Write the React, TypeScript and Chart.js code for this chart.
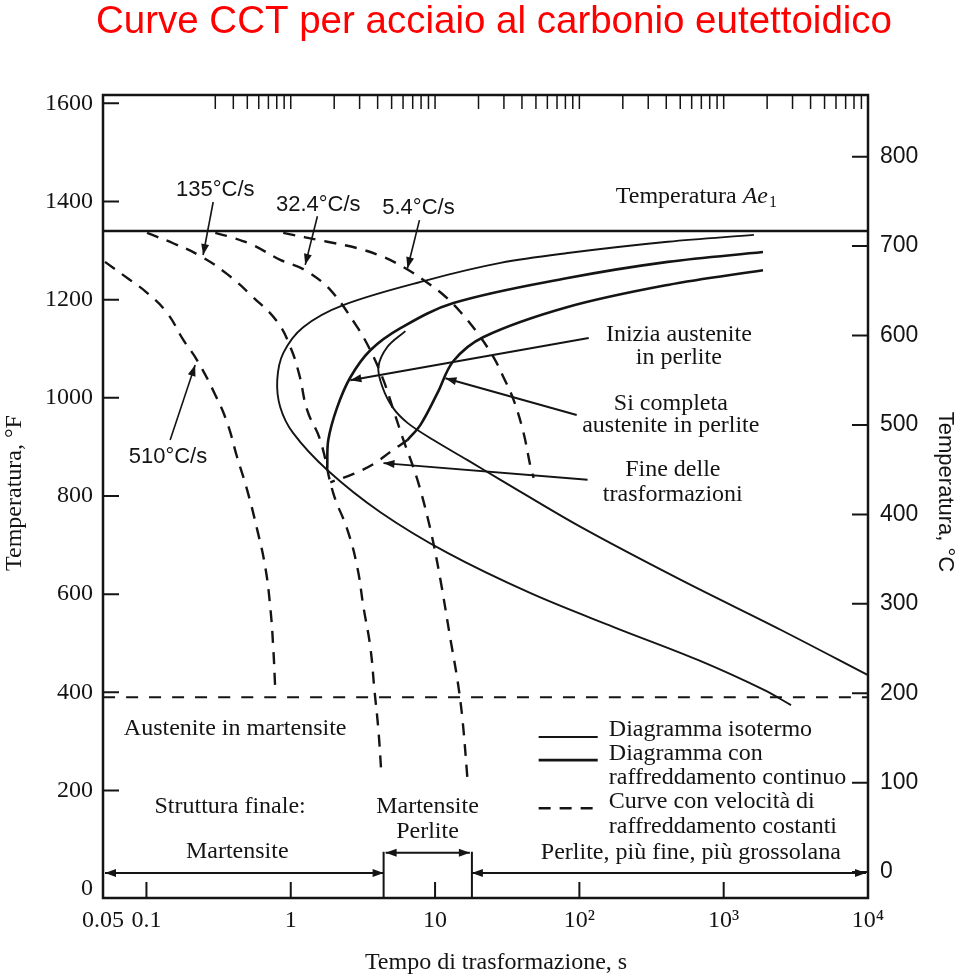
import React, { useEffect, useRef } from "react";
import { Chart, registerables } from "chart.js";

Chart.register(...registerables);

// ---------- texts ----------
const chartTitle = "Curve CCT per acciaio al carbonio eutettoidico";
const xAxisTitle = "Tempo di trasformazione, s";
const yAxisTitleF = "Temperatura, °F";
const yAxisTitleC = "Temperatura, °C";

// ---------- axes ----------
const timeTicks = [0.05, 0.1, 1, 10, 100, 1000, 10000];
const timeTickLabels = ["0.05", "0.1", "1", "10", "10²", "10³", "10⁴"];
const fahrenheitTicks = [0, 200, 400, 600, 800, 1000, 1200, 1400, 1600];
const celsiusTicks = [0, 100, 200, 300, 400, 500, 600, 700, 800];
const topMinorTicks = [
  0.3, 0.4, 0.5, 0.6, 0.7, 0.8, 0.9, 1,
  2, 3, 4, 5, 6, 7, 8, 9, 10,
  20, 30, 40, 50, 60, 70, 80, 90, 100,
  200, 300, 400, 500, 600, 700, 800, 900, 1000,
  2000, 3000, 4000, 5000, 6000, 7000, 8000, 9000, 10000,
];

// ---------- reference temperatures (°F) ----------
const ae1TempF = 1340;
const msTempF = 390;

// ---------- isothermal diagram (thin solid) ----------
const isoStartTime = [1620, 410, 83, 28.4, 8.86, 2.31, 1.22, 0.887, 0.806, 0.846, 1.04, 1.79, 4.18, 12.2, 45.9, 173, 662, 1902, 2928];
const isoStartTemp = [1332, 1318, 1295, 1275, 1240, 1189, 1144, 1091, 1036, 981, 928, 853, 767, 684, 602, 533, 466, 405, 374];

const isoEndTime = [6.23, 4.68, 4.05, 4.32, 5.07, 6.44, 9.75, 16.8, 28.4, 102, 505, 2496, 10000];
const isoEndTemp = [1136, 1104, 1063, 1022, 981, 949, 914, 873, 833, 737, 629, 527, 435];

// ---------- continuous cooling diagram (thick solid) ----------
const cctStartTime = [1872, 410, 83, 13.4, 5.76, 3.56, 2.59, 2.1, 1.82, 1.79];
const cctStartTemp = [1297, 1277, 1244, 1193, 1142, 1097, 1042, 981, 914, 857];

const cctEndTime = [1872, 410, 83, 21.7, 13.4, 10.4, 7.92, 6.44];
const cctEndTemp = [1260, 1230, 1185, 1124, 1075, 1010, 945, 914];

const cctStopTime = [6.44, 4.91, 3.74, 2.72, 1.88];
const cctStopTemp = [914, 890, 865, 845, 828];

// ---------- constant cooling rate curves (dashed) ----------
const rateNames = ["510°C/s", "135°C/s", "32.4°C/s", "5.4°C/s"];

const rate510Time = [0.0516, 0.077, 0.101, 0.139, 0.18, 0.224, 0.3, 0.363, 0.425, 0.499, 0.586, 0.666, 0.721, 0.756, 0.781];
const rate510Temp = [1277, 1240, 1214, 1173, 1118, 1077, 1006, 949, 879, 812, 731, 655, 574, 492, 405];

const rate135Time = [0.101, 0.153, 0.236, 0.363, 0.549, 0.806, 0.992, 1.146, 1.3, 1.6, 1.97, 2.47, 2.89, 3.19, 3.56, 3.8, 4.05, 4.25];
const rate135Temp = [1336, 1315, 1289, 1252, 1205, 1155, 1104, 1047, 975, 914, 806, 731, 655, 574, 492, 405, 323, 232];

const rate32Time = [0.3, 0.399, 0.549, 0.846, 1.26, 1.88, 2.89, 3.56, 4.39, 5.23, 6.04, 7.55, 9.3, 10.9, 12.8, 14.3, 15.5, 16.8];
const rate32Temp = [1336, 1326, 1311, 1281, 1260, 1220, 1144, 1097, 1036, 969, 914, 833, 731, 629, 507, 425, 344, 221];

const rate5Time = [0.887, 1.79, 2.89, 4.39, 6.23, 8.31, 11.4, 15.0, 19.7, 25.4, 29.8, 35.0, 41.1, 45.9, 48.2];
const rate5Temp = [1336, 1318, 1305, 1287, 1264, 1240, 1210, 1175, 1132, 1083, 1042, 996, 928, 859, 837];

// ---------- final structure boundaries (s) ----------
const martensiteLimit = 4.4;
const mixedLimit = 18;

// ---------- legend texts ----------
const legendIso = "Diagramma isotermo";
const legendCct = ["Diagramma con", "raffreddamento continuo"];
const legendRate = ["Curve con velocità di", "raffreddamento costanti"];

const SERIF = "'Liberation Serif', 'Times New Roman', serif";
const SANS = "'Liberation Sans', Arial, Helvetica, sans-serif";
const INK = "#141414";

const pts = (ts: number[], fs: number[]) => ts.map((t, i) => ({ x: t, y: fs[i] }));

function arrowHead(ctx: CanvasRenderingContext2D, x1: number, y1: number, x2: number, y2: number, len = 11, half = 4) {
  const a = Math.atan2(y2 - y1, x2 - x1);
  const c = Math.cos(a), s = Math.sin(a);
  ctx.beginPath();
  ctx.moveTo(x2, y2);
  ctx.lineTo(x2 - len * c + half * s, y2 - len * s - half * c);
  ctx.lineTo(x2 - len * c - half * s, y2 - len * s + half * c);
  ctx.closePath();
  ctx.fill();
}

function arrow(ctx: CanvasRenderingContext2D, x1: number, y1: number, x2: number, y2: number, both = false) {
  ctx.beginPath();
  ctx.moveTo(x1, y1);
  ctx.lineTo(x2, y2);
  ctx.stroke();
  arrowHead(ctx, x1, y1, x2, y2);
  if (both) arrowHead(ctx, x2, y2, x1, y1);
}

const decorPlugin = {
  id: "decor",
  afterDatasetsDraw(chart: any) {
    const { ctx, chartArea: a, scales } = chart;
    const X = (t: number) => scales.x.getPixelForValue(t);
    const Y = (f: number) => scales.y.getPixelForValue(f);
    const YC = (c: number) => scales.y2.getPixelForValue(c);
    const text = (s: string, x: number, y: number, font: string, align: CanvasTextAlign = "center") => {
      ctx.font = font;
      ctx.textAlign = align;
      ctx.textBaseline = "middle";
      ctx.fillText(s, x, y);
    };
    ctx.save();
    ctx.strokeStyle = INK;
    ctx.fillStyle = INK;
    ctx.setLineDash([]);

    // frame
    ctx.lineWidth = 2.5;
    ctx.strokeRect(a.left, a.top, a.right - a.left, a.bottom - a.top);

    // inward ticks
    ctx.lineWidth = 2;
    ctx.beginPath();
    for (const f of fahrenheitTicks) {
      if (f <= 0) continue;
      const y = Y(f);
      ctx.moveTo(a.left, y);
      ctx.lineTo(a.left + 16, y);
    }
    for (const c of celsiusTicks) {
      const y = YC(c);
      ctx.moveTo(a.right, y);
      ctx.lineTo(a.right - 16, y);
    }
    for (const t of timeTicks) {
      if (t <= timeTicks[0] || t >= timeTicks[timeTicks.length - 1]) continue;
      const x = X(t);
      ctx.moveTo(x, a.bottom);
      ctx.lineTo(x, a.bottom - 16);
    }
    ctx.stroke();
    ctx.lineWidth = 1.5;
    ctx.beginPath();
    for (const t of topMinorTicks) {
      const x = X(t);
      ctx.moveTo(x, a.top);
      ctx.lineTo(x, a.top + 14);
    }
    ctx.stroke();

    // main title
    ctx.fillStyle = "#ff0000";
    ctx.font = `38.5px ${SANS}`;
    ctx.textAlign = "center";
    ctx.textBaseline = "alphabetic";
    ctx.fillText(chartTitle, 494, 33);
    ctx.fillStyle = INK;

    // axis titles
    text(xAxisTitle, 496, 963, `24px ${SERIF}`);
    ctx.save();
    ctx.translate(15, 493);
    ctx.rotate(-Math.PI / 2);
    text(yAxisTitleF, 0, 0, `24px ${SERIF}`);
    ctx.restore();
    ctx.save();
    ctx.translate(945, 492);
    ctx.rotate(Math.PI / 2);
    text(yAxisTitleC, 0, 0, `22px ${SANS}`);
    ctx.restore();

    // Ae1 label
    {
      const cx = X(642), cy = Y(1409);
      const f1 = `24px ${SERIF}`, f2 = `italic 24px ${SERIF}`, f3 = `16px ${SERIF}`;
      ctx.font = f1; const w1 = ctx.measureText("Temperatura ").width;
      ctx.font = f2; const w2 = ctx.measureText("Ae").width;
      ctx.font = f3; const w3 = ctx.measureText("1").width;
      let x = cx - (w1 + w2 + w3) / 2;
      text("Temperatura ", x, cy, f1, "left"); x += w1;
      text("Ae", x, cy, f2, "left"); x += w2;
      text("1", x + 1, cy + 6, f3, "left");
    }

    // cooling-rate labels with arrows
    ctx.lineWidth = 1.6;
    const rateNotes = [
      { label: [0.141, 879], from: [0.146, 914], to: [0.2175, 1067] },
      { label: [0.3, 1423], from: [0.29, 1399], to: [0.247, 1291] },
      { label: [1.55, 1393], from: [1.53, 1370], to: [1.26, 1271] },
      { label: [7.67, 1387], from: [7.8, 1362], to: [6.44, 1264] },
    ];
    rateNotes.forEach((n, i) => {
      text(rateNames[i], X(n.label[0]), Y(n.label[1]), `22px ${SANS}`);
      arrow(ctx, X(n.from[0]), Y(n.from[1]), X(n.to[0]), Y(n.to[1]));
    });

    // pointer notes
    const notes = [
      { lines: ["Inizia austenite", "in perlite"], at: [489, 1128, 1081], from: [116, 1122], to: [2.59, 1036] },
      { lines: ["Si completa", "austenite in perlite"], at: [430, 989, 943], from: [95.8, 965], to: [11.8, 1040] },
      { lines: ["Fine delle", "trasformazioni"], at: [444, 853, 802], from: [114, 833], to: [4.39, 867] },
    ];
    ctx.lineWidth = 2;
    for (const n of notes) {
      text(n.lines[0], X(n.at[0]), Y(n.at[1]), `24px ${SERIF}`);
      text(n.lines[1], X(n.at[0]), Y(n.at[2]), `24px ${SERIF}`);
      arrow(ctx, X(n.from[0]), Y(n.from[1]), X(n.to[0]), Y(n.to[1]));
    }

    // structure texts
    text("Austenite in martensite", X(0.412), Y(325), `24px ${SERIF}`);
    text("Struttura finale:", X(0.38), Y(168), `24px ${SERIF}`);
    text("Martensite", X(0.426), Y(75), `24px ${SERIF}`);
    text("Martensite", X(8.86), Y(168), `24px ${SERIF}`);
    text("Perlite", X(8.86), Y(117), `24px ${SERIF}`);
    text("Perlite, più fine, più grossolana", X(592), Y(73), `24px ${SERIF}`);

    // structure arrows
    ctx.lineWidth = 2;
    const yBase = Y(32), yBox = Y(73);
    const xm = X(martensiteLimit), xp = X(mixedLimit);
    arrow(ctx, a.left + 2, yBase, xm, yBase, true);
    arrow(ctx, xp, yBase, a.right - 2, yBase, true);
    arrow(ctx, xm + 2, yBox, xp - 2, yBox, true);
    ctx.beginPath();
    ctx.moveTo(xm, yBox - 1); ctx.lineTo(xm, a.bottom);
    ctx.moveTo(xp, yBox - 1); ctx.lineTo(xp, a.bottom);
    ctx.stroke();

    // legend
    const lx1 = X(52.2), lx2 = X(134), tx = X(160);
    ctx.lineWidth = 1.8;
    ctx.beginPath(); ctx.moveTo(lx1, Y(309)); ctx.lineTo(lx2, Y(309)); ctx.stroke();
    ctx.lineWidth = 2.8;
    ctx.beginPath(); ctx.moveTo(lx1, Y(262)); ctx.lineTo(lx2, Y(262)); ctx.stroke();
    ctx.lineWidth = 2.4;
    ctx.setLineDash([12, 9]);
    ctx.beginPath(); ctx.moveTo(lx1, Y(164)); ctx.lineTo(lx2, Y(164)); ctx.stroke();
    ctx.setLineDash([]);
    text(legendIso, tx, Y(323), `24px ${SERIF}`, "left");
    text(legendCct[0], tx, Y(276), `24px ${SERIF}`, "left");
    text(legendCct[1], tx, Y(226), `24px ${SERIF}`, "left");
    text(legendRate[0], tx, Y(177), `24px ${SERIF}`, "left");
    text(legendRate[1], tx, Y(126), `24px ${SERIF}`, "left");

    ctx.restore();
  },
};

export default function App() {
  const ref = useRef<HTMLCanvasElement>(null);

  useEffect(() => {
    if (!ref.current) return;
    const solid = (data: any[], width: number) => ({
      data, showLine: true, borderColor: INK, borderWidth: width, pointRadius: 0, tension: 0.35, fill: false,
    });
    const dashed = (data: any[], width: number, dash: number[]) => ({
      ...solid(data, width), borderDash: dash,
    });
    const datasets: any[] = [
      solid([{ x: timeTicks[0], y: ae1TempF }, { x: timeTicks[timeTicks.length - 1], y: ae1TempF }], 2.6),
      dashed([{ x: timeTicks[0], y: msTempF }, { x: timeTicks[timeTicks.length - 1], y: msTempF }], 2.2, [12, 11]),
      solid(pts(isoStartTime, isoStartTemp), 1.9),
      solid(pts(isoEndTime, isoEndTemp), 1.9),
      solid(pts(cctStartTime, cctStartTemp), 2.6),
      solid(pts(cctEndTime, cctEndTemp), 2.6),
      dashed(pts(cctStopTime, cctStopTemp), 2.4, [12, 9]),
      { ...dashed(pts(rate510Time, rate510Temp), 2.4, [12, 9]), tension: 0.45 },
      { ...dashed(pts(rate135Time, rate135Temp), 2.4, [12, 9]), tension: 0.45 },
      dashed(pts(rate32Time, rate32Temp), 2.4, [12, 9]),
      dashed(pts(rate5Time, rate5Temp), 2.4, [12, 9]),
    ];

    const chart = new Chart(ref.current, {
      type: "scatter",
      data: { datasets },
      options: {
        animation: false,
        responsive: true,
        maintainAspectRatio: false,
        events: [],
        layout: { padding: { top: 95, left: 0, right: 0, bottom: 0 } },
        plugins: { legend: { display: false }, title: { display: false }, tooltip: { enabled: false } },
        scales: {
          x: {
            type: "logarithmic",
            position: "bottom",
            min: timeTicks[0],
            max: timeTicks[timeTicks.length - 1],
            grid: { display: false, drawTicks: false },
            border: { display: false },
            afterBuildTicks: (s: any) => { s.ticks = timeTicks.map((v) => ({ value: v })); },
            afterFit: (s: any) => { s.height = 79; },
            ticks: {
              autoSkip: false,
              maxRotation: 0,
              padding: 8,
              color: INK,
              font: { family: SERIF, size: 24 },
              callback: (v: any) => {
                const i = timeTicks.findIndex((t) => Math.abs(Math.log10(t) - Math.log10(Number(v))) < 1e-6);
                return i >= 0 ? timeTickLabels[i] : "";
              },
            },
          },
          y: {
            type: "linear",
            position: "left",
            min: -19,
            max: 1617,
            grid: { display: false, drawTicks: false },
            border: { display: false },
            afterBuildTicks: (s: any) => { s.ticks = fahrenheitTicks.map((v) => ({ value: v })); },
            afterFit: (s: any) => { s.width = 103; },
            ticks: { padding: 10, color: INK, font: { family: SERIF, size: 24 }, callback: (v: any) => String(v) },
          },
          y2: {
            type: "linear",
            position: "right",
            min: -29,
            max: 869,
            grid: { display: false, drawTicks: false },
            border: { display: false },
            afterBuildTicks: (s: any) => { s.ticks = celsiusTicks.map((v) => ({ value: v })); },
            afterFit: (s: any) => { s.width = 92; },
            ticks: { padding: 12, color: INK, font: { family: SANS, size: 23 }, callback: (v: any) => String(v) },
          },
        },
      },
      plugins: [decorPlugin],
    } as any);
    return () => chart.destroy();
  }, []);

  return (
    <div style={{ position: "absolute", left: 0, top: 0, width: 960, height: 977, background: "#fff" }}>
      <canvas ref={ref} style={{ display: "block" }} />
    </div>
  );
}
